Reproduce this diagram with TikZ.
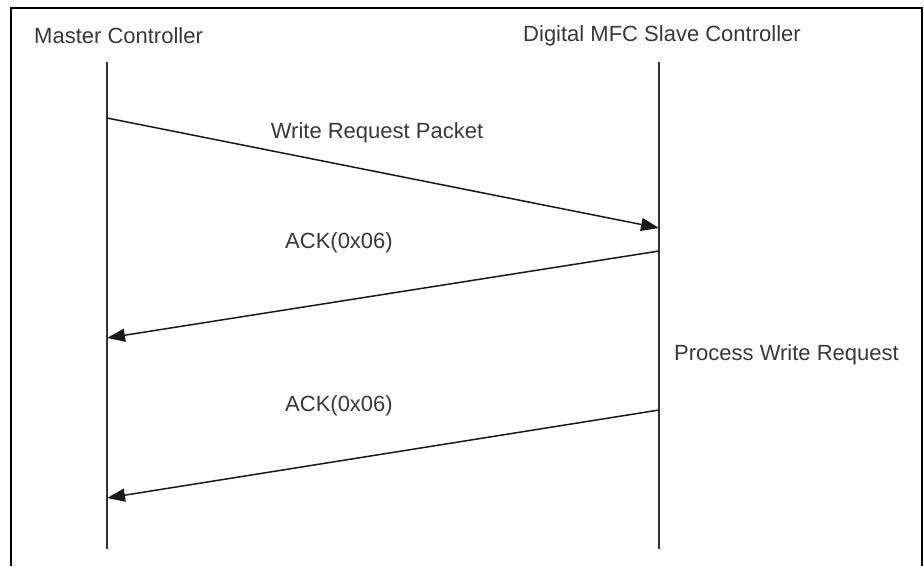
\documentclass[tikz,border=0pt]{standalone}
\usepackage{fontspec}
\setmainfont{Liberation Sans}
\usetikzlibrary{arrows.meta}

\begin{document}
\begin{tikzpicture}[
    x=1pt,
    y=-1pt,
    label text/.style={
        text=black!78,
        font=\fontsize{22}{24}\selectfont,
        inner sep=0pt
    },
    lifeline/.style={
        draw=black!80,
        line width=1.5pt
    },
    message/.style={
        draw=black!90,
        line width=1.5pt,
        -{Triangle[length=18pt,width=13pt]}
    },
    frame/.style={
        draw=black,
        line width=2pt
    },
    ]
    \useasboundingbox (0,0) rectangle (924,566);
    \draw[frame] (11,566) -- (11,8) -- (922,8) -- (922,566);

    \node[label text, anchor=west] (master) at (34,36) {Master Controller};
    \node[label text] (slave) at (662,36) {Digital MFC Slave Controller};

    \coordinate (master top) at (107,62);
    \coordinate (master bottom) at (107,549);
    \coordinate (slave top) at (659,62);
    \coordinate (slave bottom) at (659,549);
    \draw[lifeline] (master top) -- (master bottom);
    \draw[lifeline] (slave top) -- (slave bottom);

    \coordinate (write out) at (107,118);
    \coordinate (write in) at (659,228);
    \coordinate (ack1 out) at (659,251);
    \coordinate (ack1 in) at (107,338);
    \coordinate (ack2 out) at (659,410);
    \coordinate (ack2 in) at (107,498);

    \draw[message] (write out) -- (write in);
    \draw[message] (ack1 out) -- (ack1 in);
    \draw[message] (ack2 out) -- (ack2 in);

    \node[label text] (write label) at (377,133) {Write Request Packet};
    \node[label text] (ack1 label) at (339,243) {ACK(0x06)};
    \node[label text, anchor=west] (process) at (674,355) {Process Write Request};
    \node[label text] (ack2 label) at (339,406) {ACK(0x06)};
\end{tikzpicture}
\end{document}
